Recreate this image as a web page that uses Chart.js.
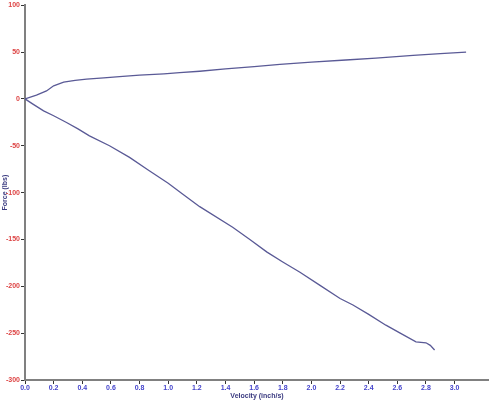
<!DOCTYPE html>
<html>
<head>
<meta charset="utf-8">
<script src="https://cdn.jsdelivr.net/npm/chart.js@4/dist/chart.umd.min.js"></script>
<style>
  body { margin: 0; background: #fff; }
  canvas { display: block; }
</style>
</head>
<body>
<canvas id="forceChart" width="489" height="400"></canvas>
<script>
// upper branch (positive force)
const upperVelocity = [0, 0.08, 0.15, 0.2, 0.27, 0.35, 0.43, 0.55, 0.66, 0.8, 0.97, 1.08, 1.22, 1.4, 1.6, 1.78, 2.0, 2.24, 2.45, 2.71, 2.9, 3.08];
const upperForce = [0, 4, 8.5, 14, 18, 19.8, 21, 22.5, 23.7, 25.3, 26.8, 28, 29.5, 32, 34.5, 36.9, 39.2, 41.5, 43.5, 46.5, 48.3, 50];

// lower branch (negative force)
const lowerVelocity = [0, 0.05, 0.13, 0.2, 0.29, 0.37, 0.45, 0.59, 0.73, 0.86, 1.0, 1.1, 1.22, 1.45, 1.57, 1.69, 1.8, 1.92, 2.06, 2.2, 2.29, 2.4, 2.52, 2.62, 2.73, 2.8, 2.83, 2.86];
const lowerForce = [0, -5, -12.8, -18, -25.2, -32, -39.4, -50, -62.4, -75.9, -90, -101.4, -115, -137, -150, -163.5, -174, -185, -199, -213, -220, -230, -241.5, -250, -259.3, -260.3, -263, -268];

const xTicks = [0, 0.2, 0.4, 0.6, 0.8, 1.0, 1.2, 1.4, 1.6, 1.8, 2.0, 2.2, 2.4, 2.6, 2.8, 3.0];
const yTicks = [-300, -250, -200, -150, -100, -50, 0, 50, 100];

const toPoints = (xs, ys) => xs.map((x, i) => ({ x: x, y: ys[i] }));

const lineColor = "#5a5a96";
const tickFont = { family: "Liberation Sans, Arial", size: 7, weight: "bold" };

const ctx = document.getElementById("forceChart").getContext("2d");

new Chart(ctx, {
  type: "scatter",
  data: {
    datasets: [
      {
        data: toPoints(upperVelocity, upperForce),
        showLine: true,
        borderColor: lineColor,
        borderWidth: 1.3,
        pointRadius: 0,
        tension: 0,
      },
      {
        data: toPoints(lowerVelocity, lowerForce),
        showLine: true,
        borderColor: lineColor,
        borderWidth: 1.3,
        pointRadius: 0,
        tension: 0,
      },
    ],
  },
  options: {
    responsive: false,
    animation: false,
    layout: { padding: { top: 4, right: 0, left: 0, bottom: 0 } },
    plugins: {
      legend: { display: false },
      tooltip: { enabled: false },
    },
    scales: {
      x: {
        type: "linear",
        min: 0,
        max: 3.24,
        afterFit: (scale) => { scale.height = 20; },
        afterBuildTicks: (scale) => {
          scale.ticks = xTicks.map((v) => ({ value: v }));
        },
        ticks: {
          color: "#4444cc",
          font: tickFont,
          padding: 0,
          maxRotation: 0,
          autoSkip: false,
          callback: (v) => Number(v).toFixed(1),
        },
        grid: {
          drawOnChartArea: false,
          drawTicks: true,
          tickLength: 4,
          tickColor: "#333",
          lineWidth: 1,
        },
        border: { color: "#808080", width: 2 },
        title: {
          display: true,
          text: "Velocity (inch/s)",
          color: "#3a3a80",
          font: { family: "Liberation Sans, Arial", size: 7, weight: "bold" },
          padding: 0,
        },
      },
      y: {
        min: -300,
        max: 100,
        afterFit: (scale) => { scale.width = 25; },
        afterBuildTicks: (scale) => {
          scale.ticks = yTicks.map((v) => ({ value: v }));
        },
        ticks: {
          color: "#dd4444",
          font: tickFont,
          padding: 1,
          autoSkip: false,
        },
        grid: {
          drawOnChartArea: false,
          drawTicks: true,
          tickLength: 4,
          tickColor: "#333",
          lineWidth: 1,
        },
        border: { color: "#808080", width: 2 },
        title: {
          display: true,
          text: "Force (lbs)",
          color: "#3a3a80",
          font: { family: "Liberation Sans, Arial", size: 7, weight: "bold" },
          padding: { top: 1, bottom: 0 },
        },
      },
    },
  },
});
</script>
</body>
</html>
